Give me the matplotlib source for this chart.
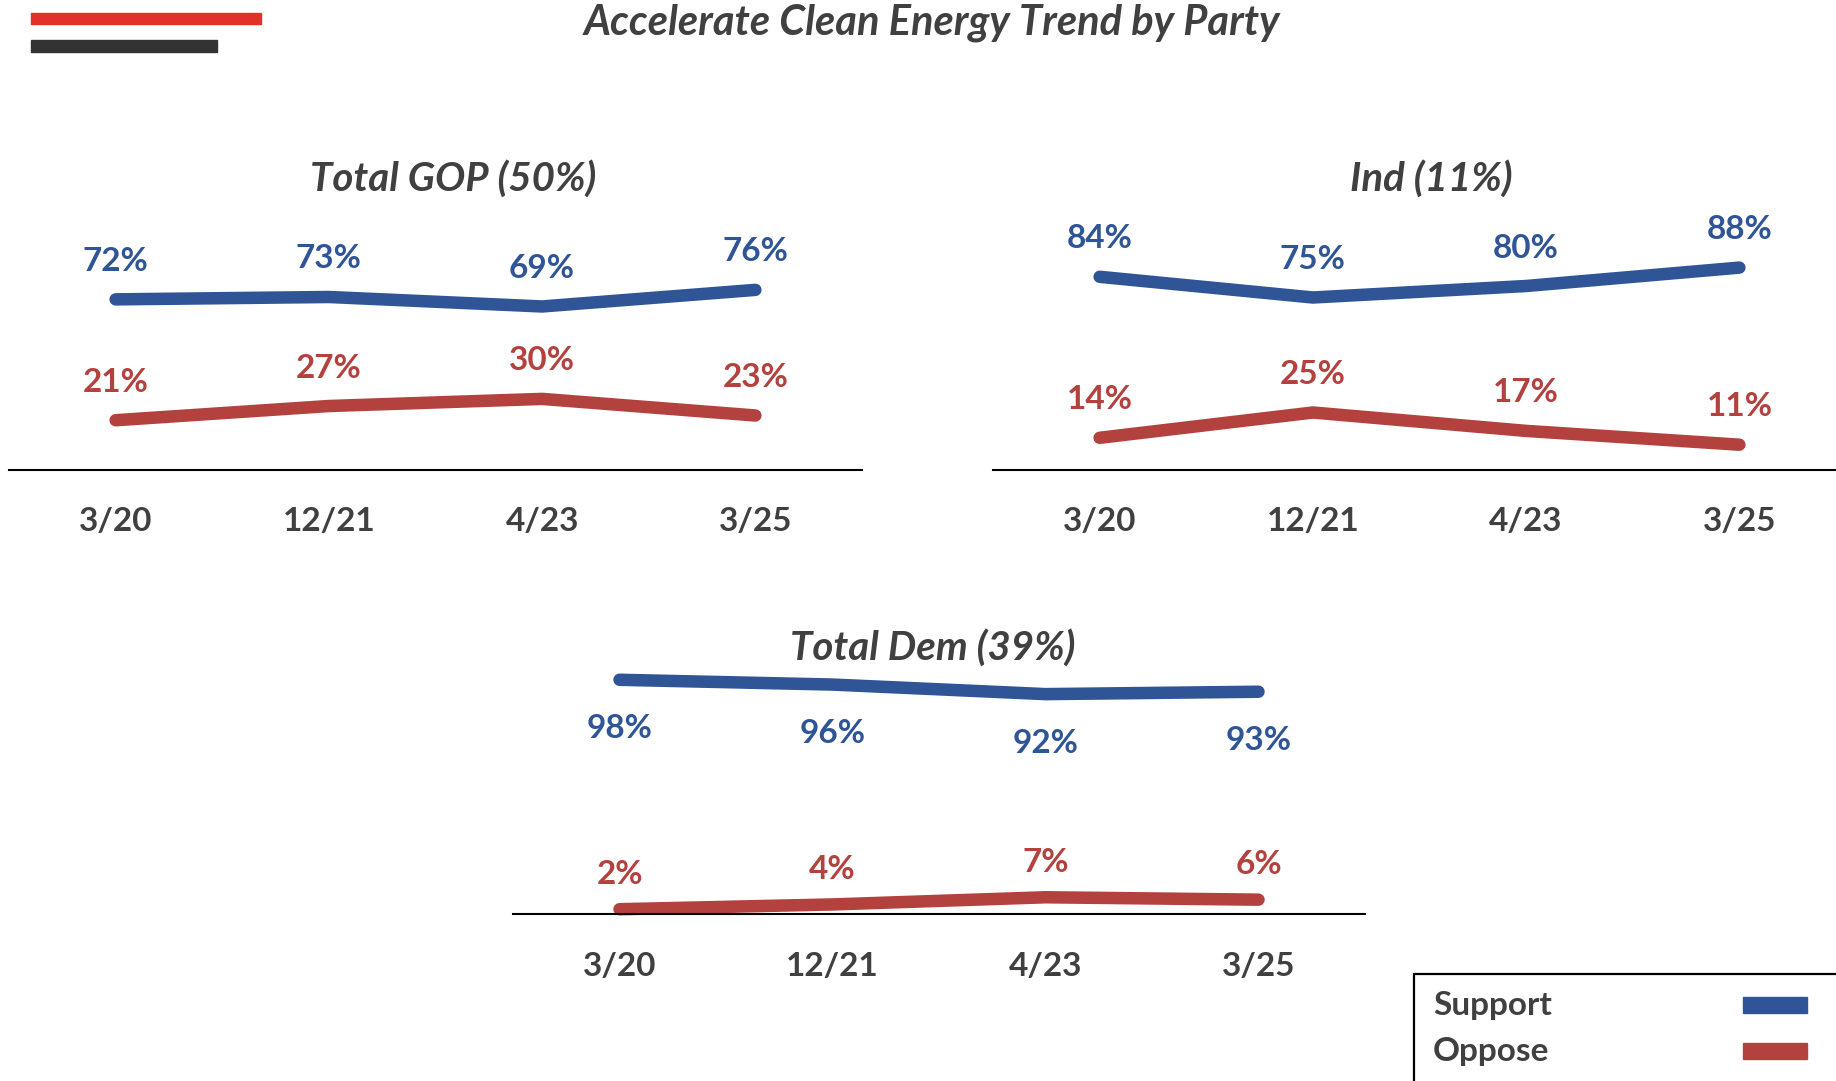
import matplotlib.pyplot as plt
from matplotlib.patches import Rectangle

plt.rcParams['font.family'] = ['Lato', 'DejaVu Sans']

# data
waves = ['3/20', '12/21', '4/23', '3/25']
gop_support = [72, 73, 69, 76]
gop_oppose = [21, 27, 30, 23]
ind_support = [84, 75, 80, 88]
ind_oppose = [14, 25, 17, 11]
dem_support = [98, 96, 92, 93]
dem_oppose = [2, 4, 7, 6]

BLUE = '#2F5597'
RED = '#B3413E'
GREY = '#404040'

W, H = 1836, 1081
fig = plt.figure(figsize=(W / 100, H / 100), dpi=100)


def box(left, bottom_y, width, height):
    # pixel box (top-left origin) -> figure fraction
    return [left / W, 1 - bottom_y / H, width / W, height / H]


def panel(rect, support, oppose, sup_off, opp_off):
    ax = fig.add_axes(rect)
    x = range(len(waves))
    ax.plot(x, support, color=BLUE, lw=9, solid_capstyle='round', clip_on=False)
    ax.plot(x, oppose, color=RED, lw=9, solid_capstyle='round', clip_on=False)
    for i in x:
        ax.annotate(f'{support[i]}%', (i, support[i]), xytext=(0, sup_off),
                    textcoords='offset pixels', ha='center', va='center',
                    color=BLUE, fontsize=24, fontweight='bold')
        ax.annotate(f'{oppose[i]}%', (i, oppose[i]), xytext=(0, opp_off),
                    textcoords='offset pixels', ha='center', va='center',
                    color=RED, fontsize=24, fontweight='bold')
    ax.set_xlim(-0.5, 3.5)
    ax.set_ylim(0, 100)
    for s in ['top', 'left', 'right']:
        ax.spines[s].set_visible(False)
    ax.spines['bottom'].set_linewidth(1.5)
    ax.spines['bottom'].set_color('black')
    ax.set_yticks([])
    ax.set_xticks(list(x))
    ax.set_xticklabels(waves, fontsize=24, fontweight='bold', color=GREY)
    ax.tick_params(axis='x', length=0, pad=27)
    ax.patch.set_alpha(0)
    return ax


panel(box(9, 470, 853, 237), gop_support, gop_oppose, 38, 38)
panel(box(993, 470, 853, 230), ind_support, ind_oppose, 38, 38)
panel(box(513, 914, 852, 239), dem_support, dem_oppose, -49, 35)

title_kw = dict(fontweight='bold', style='italic', color=GREY,
                ha='center', va='center')
fig.text(932 / W, 1 - 23 / H, 'Accelerate Clean Energy Trend by Party',
         fontsize=30, **title_kw)
fig.text(453 / W, 1 - 179 / H, 'Total GOP (50%)', fontsize=29, **title_kw)
fig.text(1431 / W, 1 - 179 / H, 'Ind (11%)', fontsize=29, **title_kw)
fig.text(933 / W, 1 - 648 / H, 'Total Dem (39%)', fontsize=29, **title_kw)

# decorative bars top-left
fig.patches.append(Rectangle((31 / W, 1 - 24 / H), 230 / W, 11 / H,
                             transform=fig.transFigure, color='#E0322B'))
fig.patches.append(Rectangle((31 / W, 1 - 52 / H), 186 / W, 12 / H,
                             transform=fig.transFigure, color='#333333'))

# legend box
fig.patches.append(Rectangle((1414 / W, -0.05), 0.3, 1 - 974 / H + 0.05,
                             transform=fig.transFigure, facecolor='none',
                             edgecolor='black', lw=1.6))
fig.text(1433 / W, 1 - 1006 / H, 'Support', fontsize=24, fontweight='bold',
         color=GREY, ha='left', va='center')
fig.text(1433 / W, 1 - 1051 / H, 'Oppose', fontsize=24, fontweight='bold',
         color=GREY, ha='left', va='center')
fig.patches.append(Rectangle((1743 / W, 1 - 1013 / H), 64 / W, 16 / H,
                             transform=fig.transFigure, color=BLUE))
fig.patches.append(Rectangle((1743 / W, 1 - 1059 / H), 64 / W, 16 / H,
                             transform=fig.transFigure, color=RED))

fig.savefig('out.png', dpi=100)
